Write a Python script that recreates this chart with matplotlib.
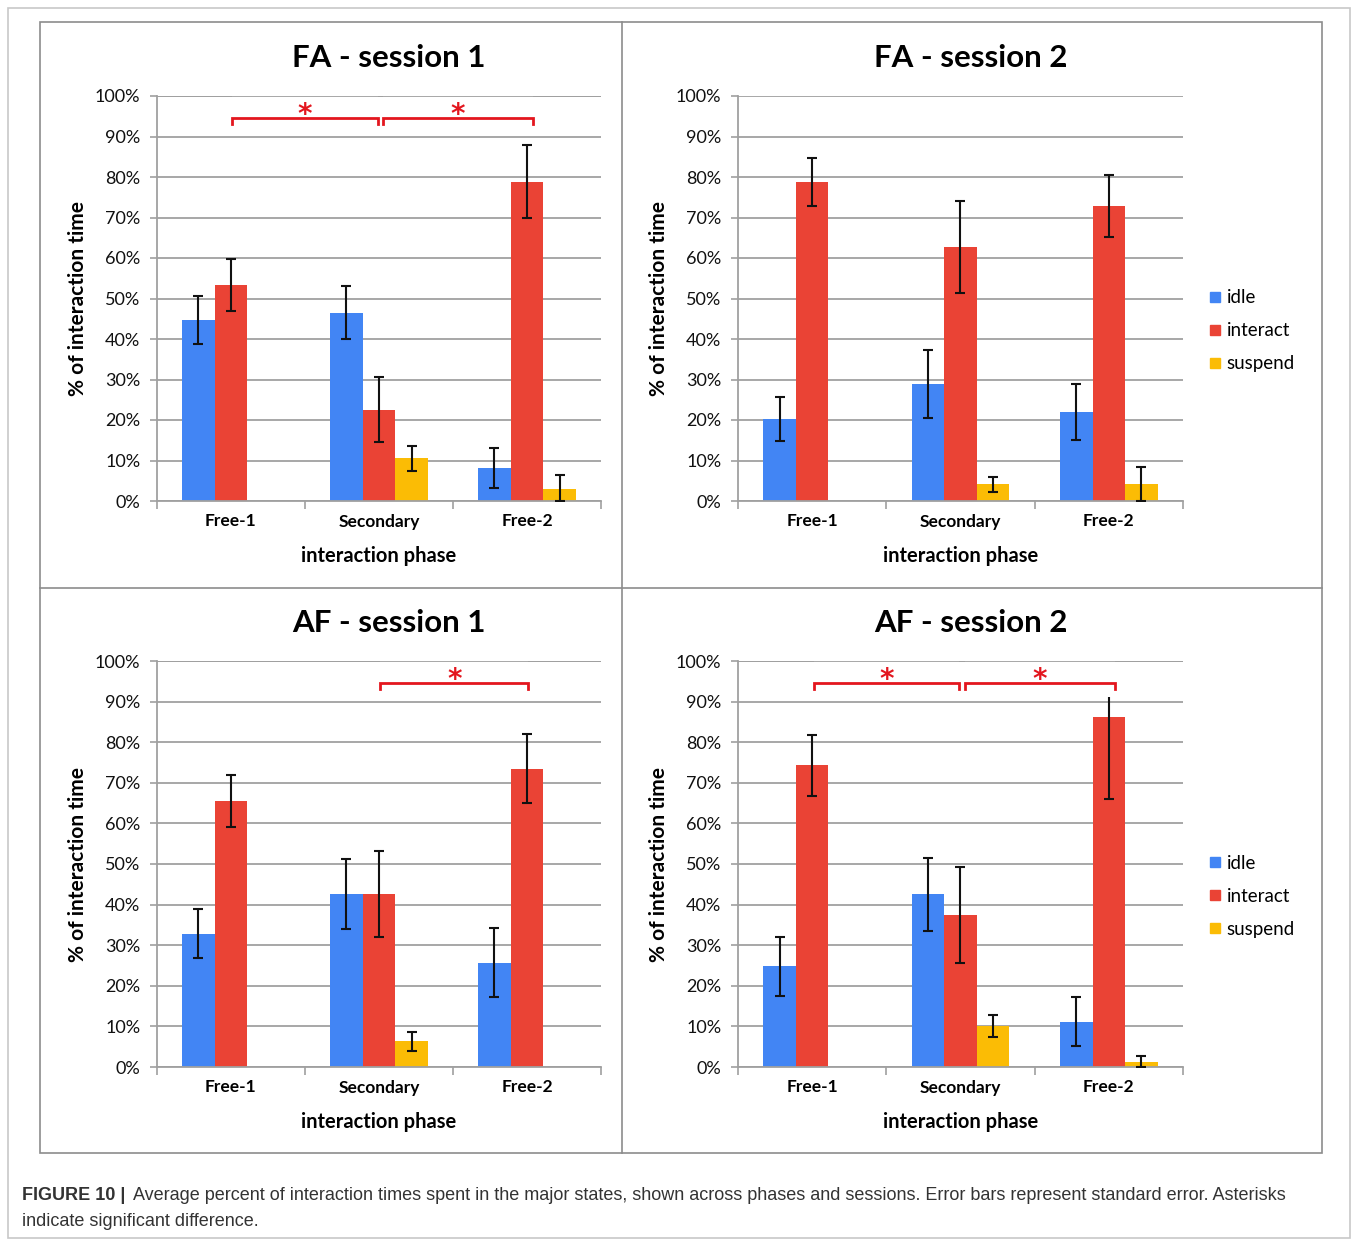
import numpy as np
import matplotlib
matplotlib.use("Agg")
import matplotlib.pyplot as plt
from matplotlib.lines import Line2D
from matplotlib.patches import Rectangle

plt.rcParams['font.family'] = ['Lato', 'DejaVu Sans']

W, H = 1358, 1240

phases = ['Free-1', 'Secondary', 'Free-2']
states = ['idle', 'interact', 'suspend']
colors = ['#4285f4', '#ea4335', '#fbbc05']

# means per state (rows: idle, interact, suspend), nan = no bar
fa1_mean = [[44.7, 46.5, 8.1], [53.3, 22.5, 78.8], [np.nan, 10.5, 3.0]]
fa1_err = [[6.0, 6.5, 5.0], [6.4, 8.0, 9.0], [np.nan, 3.0, 3.5]]
fa2_mean = [[20.2, 28.9, 22.0], [78.8, 62.7, 72.8], [np.nan, 4.1, 4.1]]
fa2_err = [[5.4, 8.5, 7.0], [6.0, 11.3, 7.6], [np.nan, 1.8, 4.2]]
af1_mean = [[32.8, 42.6, 25.7], [65.6, 42.6, 73.5], [np.nan, 6.3, np.nan]]
af1_err = [[6.0, 8.6, 8.5], [6.4, 10.6, 8.5], [np.nan, 2.3, np.nan]]
af2_mean = [[24.8, 42.6, 11.2], [74.3, 37.5, 86.1], [np.nan, 10.1, 1.2]]
af2_err = [[7.3, 9.0, 6.0], [7.5, 11.8, 20.0], [np.nan, 2.7, 1.6]]

# significant pairs (phase index pairs)
fa1_sig = [(0, 1), (1, 2)]
fa2_sig = []
af1_sig = [(1, 2)]
af2_sig = [(0, 1), (1, 2)]

panels = [
    ('FA - session 1', fa1_mean, fa1_err, fa1_sig, (157, 96, 601, 501), False),
    ('FA - session 2', fa2_mean, fa2_err, fa2_sig, (738, 96, 1183, 501), True),
    ('AF - session 1', af1_mean, af1_err, af1_sig, (157, 661, 601, 1067), False),
    ('AF - session 2', af2_mean, af2_err, af2_sig, (738, 661, 1183, 1067), True),
]

fig = plt.figure(figsize=(W / 100, H / 100), dpi=100)

# frames
fig.add_artist(Rectangle((8 / W, 1 - 1238 / H), 1342 / W, 1230 / H, transform=fig.transFigure,
                         fill=False, ec='#c8c8c8', lw=1.2))
fig.add_artist(Rectangle((40 / W, 1 - 1153 / H), 1282 / W, 1131 / H, transform=fig.transFigure,
                         fill=False, ec='#8c8c8c', lw=1.2))
fig.add_artist(Line2D([622 / W, 622 / W], [1 - 22 / H, 1 - 1153 / H], transform=fig.transFigure,
                      color='#8c8c8c', lw=1.2))
fig.add_artist(Line2D([40 / W, 1322 / W], [1 - 588 / H, 1 - 588 / H], transform=fig.transFigure,
                      color='#8c8c8c', lw=1.2))

x = np.arange(len(phases))
bw = 0.22
grid_c = '#a0a0a0'
sig_c = '#e3161e'

for title, means, errs, sig, (l, t, r, b), show_leg in panels:
    ax = fig.add_axes([l / W, 1 - b / H, (r - l) / W, (b - t) / H])
    for i, st in enumerate(states):
        m = np.array(means[i], dtype=float)
        e = np.array(errs[i], dtype=float)
        xs = x + (i - 1) * bw
        ok = ~np.isnan(m)
        ax.bar(xs[ok], m[ok], bw, color=colors[i], zorder=2, label=st)
        lo = np.minimum(e[ok], m[ok])
        ax.errorbar(xs[ok], m[ok], yerr=[lo, e[ok]], fmt='none', ecolor='#111111',
                    elinewidth=1.5, capsize=3.5, capthick=1.5, zorder=3)

    for k, (p0, p1) in enumerate(sig):
        x0, x1 = p0 + 0.01, p1 + 0.01
        if len(sig) > 1 and k == 0:
            x1 = p1 - 0.01
        if len(sig) > 1 and k == 1:
            x0 = p0 + 0.03
            x1 = p1 + 0.04
        # white backing of the annotation (hides what lies under it)
        ax.add_patch(Rectangle((x0, 91.2), x1 - x0, 9.0, fc='white', ec='none', zorder=4))
        ax.plot([x0, x0, x1, x1], [93.0, 94.6, 94.6, 93.0], color=sig_c, lw=2, zorder=5,
                solid_joinstyle='miter')
        ax.text((x0 + x1) / 2, 93.3, '*', color=sig_c, ha='center', va='baseline',
                fontsize=20, fontweight='bold', family='DejaVu Sans', zorder=5)
    if sig:
        ax.axhline(100, color=grid_c, lw=1.3, zorder=4.5)

    ax.set_xlim(-0.5, 2.5)
    ax.set_ylim(0, 100)
    ax.set_yticks(np.arange(0, 101, 10))
    ax.set_yticklabels(['%d%%' % v for v in range(0, 101, 10)])
    ax.yaxis.grid(True, color=grid_c, lw=1.3, zorder=0)
    ax.set_axisbelow(True)
    for s in ['top', 'right']:
        ax.spines[s].set_visible(False)
    for s in ['left', 'bottom']:
        ax.spines[s].set_color(grid_c)
        ax.spines[s].set_linewidth(1.3)
    ax.tick_params(axis='y', length=5, color=grid_c, width=1.2, labelsize=13, pad=7,
                   labelcolor='#111111')
    ax.set_xticks([-0.5, 0.5, 1.5, 2.5])
    ax.set_xticklabels([])
    ax.set_xticks(x, minor=True)
    ax.set_xticklabels(phases, minor=True, fontweight='bold', fontsize=12.5)
    ax.tick_params(axis='x', which='major', length=6, color=grid_c, width=1.2)
    ax.tick_params(axis='x', which='minor', length=0, pad=9)
    ax.set_xlabel('interaction phase', fontsize=14.5, fontweight='bold', labelpad=12)
    ax.set_ylabel('% of interaction time', fontsize=15, fontweight='bold', labelpad=5)
    ax.set_title(title, fontsize=22.5, fontweight='bold', x=0.523, pad=21)

    if show_leg:
        handles = [Line2D([], [], ls='none', marker='s', ms=7, color=c) for c in colors]
        ax.legend(handles, states, loc='center left', bbox_to_anchor=(1.045, 0.42),
                  frameon=False, fontsize=13.5, handlelength=0.5, handletextpad=0.35,
                  labelspacing=0.85, borderaxespad=0)

fig.text(22 / W, 1 - 1196 / H, 'FIGURE 10 |', fontsize=13, fontweight='bold',
         family='Liberation Sans', color='#333333', va='center')
fig.text(133 / W, 1 - 1196 / H,
         'Average percent of interaction times spent in the major states, shown across phases and '
         'sessions. Error bars represent standard error. Asterisks',
         fontsize=13, family='Liberation Sans', color='#333333', va='center')
fig.text(22 / W, 1 - 1222 / H, 'indicate significant difference.', fontsize=13,
         family='Liberation Sans', color='#333333', va='center')

fig.savefig('out.png', dpi=100, facecolor='white')
